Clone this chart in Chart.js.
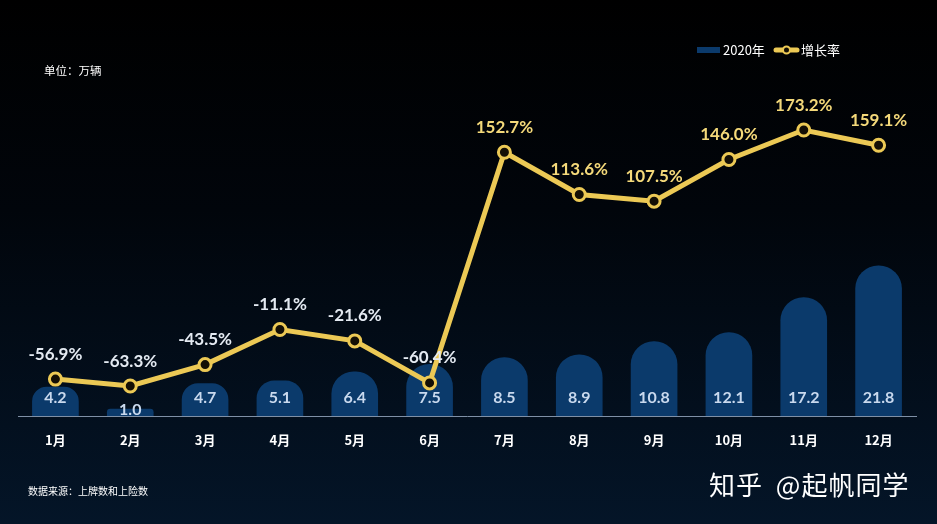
<!DOCTYPE html>
<html>
<head>
<meta charset="utf-8">
<script src="https://cdn.jsdelivr.net/npm/chart.js@4.4.0/dist/chart.umd.min.js"></script>
<style>
html, body { margin: 0; padding: 0; }
body {
    width: 937px; height: 524px; overflow: hidden; position: relative;
    background: linear-gradient(to bottom, #000000 0%, #01050b 40%, #041528 100%);
    font-family: "Noto Sans CJK SC", sans-serif;
}
#wrap { position: absolute; left: 0; top: 0; width: 937px; height: 524px; }
.note { position: absolute; color: #ffffff; line-height: 1; white-space: nowrap; }
</style>
</head>
<body>
<div id="wrap"><canvas id="myChart"></canvas></div>
<div class="note" style="left:44px; top:65px; font-size:11.5px;">单位：万辆</div>
<div class="note" style="left:28px; top:486px; font-size:10px;">数据来源：上牌数和上险数</div>
<div class="note" style="left:709px; top:471px; font-size:26px; letter-spacing:1px; word-spacing:6px;">知乎 @起帆同学</div>
<script>
const months = ["1月", "2月", "3月", "4月", "5月", "6月", "7月", "8月", "9月", "10月", "11月", "12月"];
const sales2020 = [4.2, 1.0, 4.7, 5.1, 6.4, 7.5, 8.5, 8.9, 10.8, 12.1, 17.2, 21.8];
const growthRate = [-56.9, -63.3, -43.5, -11.1, -21.6, -60.4, 152.7, 113.6, 107.5, 146.0, 173.2, 159.1];

const barColor = "#0b3a6b";
const lineColor = "#ecc955";

// value labels on bars and line points, plus the small legend top right
const labelsPlugin = {
    id: "labelsPlugin",
    afterDatasetDraw(chart, args) {
        const ctx = chart.ctx;
        ctx.save();
        ctx.textAlign = "center";
        ctx.textBaseline = "middle";
        if (args.index === 0) {
            ctx.font = "bold 16px Lato";
            const bottom = chart.chartArea.bottom;
            args.meta.data.forEach((bar, i) => {
                const y = Math.max(bar.y + 1, bottom - 18);
                ctx.fillStyle = "#c9d9ee";
                ctx.fillText(sales2020[i].toFixed(1), bar.x, y);
            });
        } else {
            ctx.font = "bold 17px Lato";
            args.meta.data.forEach((pt, i) => {
                const v = growthRate[i];
                ctx.fillStyle = v < 0 ? "#e4eaf2" : "#f4d97a";
                ctx.fillText(v.toFixed(1) + "%", pt.x, pt.y - 25);
            });
        }
        ctx.restore();
    },
    afterDraw(chart) {
        const ctx = chart.ctx;
        ctx.save();
        ctx.fillStyle = barColor;
        ctx.fillRect(697, 47, 23, 6);
        ctx.fillStyle = "#ffffff";
        ctx.font = "13px 'Noto Sans CJK SC'";
        ctx.textAlign = "left";
        ctx.textBaseline = "middle";
        ctx.fillText(chart.data.datasets[0].label, 723, 50);

        ctx.strokeStyle = lineColor;
        ctx.lineWidth = 5;
        ctx.lineCap = "round";
        ctx.beginPath();
        ctx.moveTo(776, 50);
        ctx.lineTo(797, 50);
        ctx.stroke();
        ctx.beginPath();
        ctx.arc(786.5, 50, 3.5, 0, Math.PI * 2);
        ctx.fillStyle = "#140f05";
        ctx.fill();
        ctx.lineWidth = 2;
        ctx.stroke();
        ctx.fillStyle = "#ffffff";
        ctx.fillText(chart.data.datasets[1].label, 801, 50);
        ctx.restore();
    },
};

const ctx = document.getElementById("myChart");

new Chart(ctx, {
    type: "bar",
    data: {
        labels: months,
        datasets: [
            {
                type: "bar",
                label: "2020年",
                data: sales2020,
                yAxisID: "y",
                backgroundColor: barColor,
                borderRadius: 23,
                borderSkipped: "start",
                barThickness: 46,
                order: 1,
            },
            {
                type: "line",
                label: "增长率",
                data: growthRate,
                yAxisID: "y1",
                borderColor: lineColor,
                borderWidth: 5,
                pointRadius: 6,
                pointBorderWidth: 3,
                pointBackgroundColor: "#140f05",
                pointBorderColor: lineColor,
                tension: 0,
                order: 0,
            },
        ],
    },
    options: {
        responsive: true,
        maintainAspectRatio: false,
        animation: false,
        layout: { padding: { top: 60, left: 18, right: 21, bottom: 0 } },
        plugins: {
            legend: { display: false },
            tooltip: { enabled: false },
        },
        scales: {
            x: {
                grid: { display: false, drawTicks: false },
                border: { display: true, color: "#7f90a6", width: 1 },
                ticks: {
                    color: "#ffffff",
                    padding: 16,
                    font: { family: "'Noto Sans CJK SC'", size: 13, weight: "bold" },
                },
                afterFit: (scale) => {
                    scale.height = 108;
                },
            },
            y: { display: false, min: 0, max: 51.7 },
            y1: { display: false, min: -91, max: 237.9 },
        },
    },
    plugins: [labelsPlugin],
});
</script>
</body>
</html>
